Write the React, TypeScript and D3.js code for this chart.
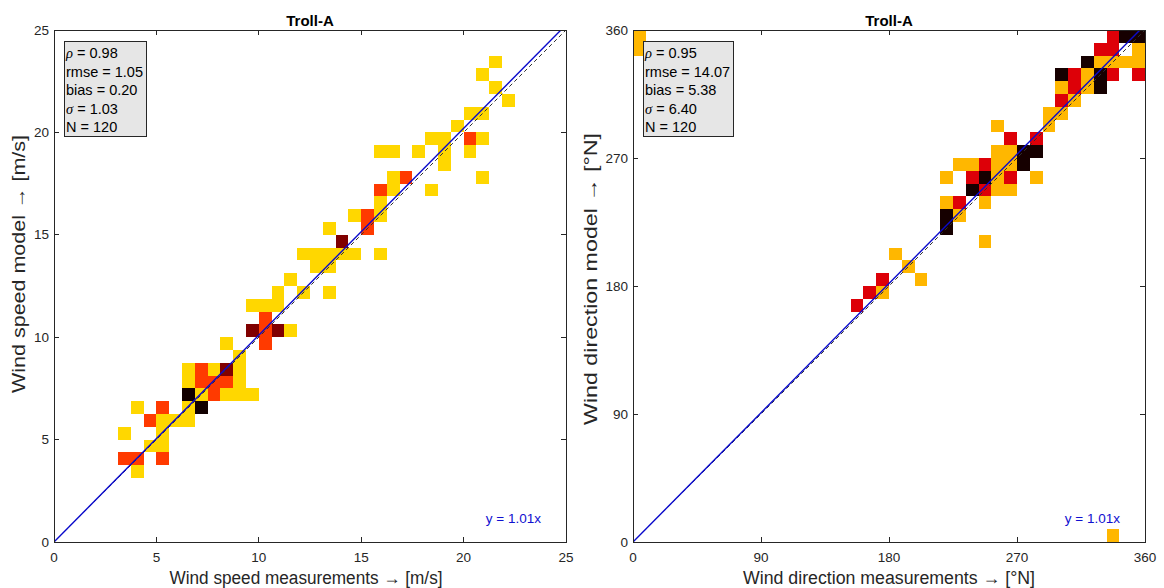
import React from "react";
import * as d3 from "d3";

// Histogram cells: [measured bin start, modelled bin start, count]
const speedBins: [number, number, number][] = [
  [3.75, 3.125, 1],
  [3.125, 3.75, 2], [3.75, 3.75, 2], [5, 3.75, 2],
  [4.375, 4.375, 1], [5, 4.375, 1],
  [3.125, 5, 1], [5, 5, 1],
  [4.375, 5.625, 2], [5, 5.625, 1], [5.625, 5.625, 1], [6.25, 5.625, 1],
  [3.75, 6.25, 1], [5, 6.25, 2], [6.25, 6.25, 1], [6.875, 6.25, 4],
  [6.25, 6.875, 4], [6.875, 6.875, 1], [7.5, 6.875, 2], [8.125, 6.875, 1], [8.75, 6.875, 1], [9.375, 6.875, 1],
  [6.25, 7.5, 1], [6.875, 7.5, 2], [7.5, 7.5, 2], [8.125, 7.5, 2], [8.75, 7.5, 1],
  [6.25, 8.125, 1], [6.875, 8.125, 2], [7.5, 8.125, 1], [8.125, 8.125, 3], [8.75, 8.125, 1],
  [8.75, 8.75, 1],
  [8.125, 9.375, 1], [10, 9.375, 2],
  [9.375, 10, 3], [10, 10, 2], [10.625, 10, 3], [11.25, 10, 1],
  [10, 10.625, 2],
  [9.375, 11.25, 1], [10, 11.25, 1], [10.625, 11.25, 1],
  [10.625, 11.875, 1], [11.875, 11.875, 1], [13.125, 11.875, 1],
  [11.25, 12.5, 1],
  [12.5, 13.125, 1], [13.125, 13.125, 1],
  [11.875, 13.75, 1], [12.5, 13.75, 1], [13.125, 13.75, 1], [13.75, 13.75, 1], [14.375, 13.75, 1], [15.625, 13.75, 1],
  [13.75, 14.375, 3],
  [13.125, 15, 1], [15, 15, 2],
  [14.375, 15.625, 1], [15, 15.625, 2], [15.625, 15.625, 1],
  [15.625, 16.25, 1],
  [15.625, 16.875, 2], [16.25, 16.875, 1], [18.125, 16.875, 1],
  [16.25, 17.5, 1], [16.875, 17.5, 2], [20.625, 17.5, 1],
  [18.75, 18.125, 1],
  [15.625, 18.75, 1], [16.25, 18.75, 1], [17.5, 18.75, 1], [18.75, 18.75, 1], [20, 18.75, 1],
  [18.125, 19.375, 1], [18.75, 19.375, 1], [20, 19.375, 2], [20.625, 19.375, 1],
  [19.375, 20, 1],
  [20, 20.625, 1], [20.625, 20.625, 1],
  [21.875, 21.25, 1],
  [21.25, 21.875, 1],
  [20.625, 22.5, 1],
  [21.25, 23.125, 1],
];

const directionBins: [number, number, number][] = [
  [333, 351, 2], [342, 351, 3], [351, 351, 3], [0, 351, 1],
  [324, 342, 2], [333, 342, 2], [351, 342, 1], [0, 342, 1],
  [315, 333, 3], [324, 333, 1], [333, 333, 1], [342, 333, 1], [351, 333, 1],
  [297, 324, 3], [306, 324, 2], [315, 324, 1], [324, 324, 3], [333, 324, 2], [351, 324, 2],
  [297, 315, 1], [306, 315, 2], [315, 315, 1], [324, 315, 3],
  [297, 306, 2], [306, 306, 1],
  [288, 297, 1], [297, 297, 1],
  [252, 288, 1], [288, 288, 1],
  [261, 279, 2], [279, 279, 2],
  [252, 270, 1], [261, 270, 1], [270, 270, 3], [279, 270, 3],
  [225, 261, 1], [234, 261, 1], [243, 261, 2], [252, 261, 1], [261, 261, 1], [270, 261, 3],
  [216, 252, 1], [234, 252, 2], [243, 252, 3], [252, 252, 1], [261, 252, 2], [279, 252, 1],
  [234, 243, 3], [243, 243, 2], [252, 243, 1], [261, 243, 1],
  [216, 234, 1], [225, 234, 2], [243, 234, 1],
  [216, 225, 3], [225, 225, 1],
  [216, 216, 3],
  [243, 207, 1],
  [180, 198, 1],
  [189, 189, 1],
  [171, 180, 2], [198, 180, 1],
  [162, 171, 2], [171, 171, 1],
  [153, 162, 2],
  [333, 0, 1],
];

const speedTicks = [0, 5, 10, 15, 20, 25];
const directionTicks = [0, 90, 180, 270, 360];

const speedColors = ["#FFD700", "#FF3A00", "#800000", "#120000"];
const directionColors = ["#FFB700", "#DD0008", "#160000"];

type Stat = { name: string; greek?: boolean; value: string };

const speedStats: Stat[] = [
  { name: "ρ", greek: true, value: "0.98" },
  { name: "rmse", value: "1.05" },
  { name: "bias", value: "0.20" },
  { name: "σ", greek: true, value: "1.03" },
  { name: "N", value: "120" },
];

const directionStats: Stat[] = [
  { name: "ρ", greek: true, value: "0.95" },
  { name: "rmse", value: "14.07" },
  { name: "bias", value: "5.38" },
  { name: "σ", greek: true, value: "6.40" },
  { name: "N", value: "120" },
];

const fitSlope = 1.01;

const AXIS = "#262626";
const FONT = "'Liberation Sans', Arial, Helvetica, sans-serif";
const TOP = 30;
const SIZE = 512;

type PanelProps = {
  id: string;
  left: number;
  max: number;
  binSize: number;
  ticks: number[];
  bins: [number, number, number][];
  colors: string[];
  stats: Stat[];
  boxWidth: number;
  xLabel: string;
  xLabelX: number;
  xLabelLen: number;
  yLabel: string;
  yLabelX: number;
  yLabelY: number;
  yLabelLen: number;
};

function Panel(p: PanelProps) {
  const x = d3.scaleLinear().domain([0, p.max]).range([p.left, p.left + SIZE]);
  const y = d3.scaleLinear().domain([0, p.max]).range([TOP + SIZE, TOP]);
  const line = d3
    .line<[number, number]>()
    .x((d) => x(d[0]))
    .y((d) => y(d[1]));
  const fitPts: [number, number][] = [
    [0, 0],
    [p.max, p.max * fitSlope],
  ];
  const idPts: [number, number][] = [
    [0, 0],
    [p.max, p.max],
  ];
  const tickLen = 5;
  const boxX = p.left + 10;
  const boxY = 41;
  return (
    <g>
      <defs>
        <clipPath id={`clip-${p.id}`}>
          <rect x={p.left} y={TOP} width={SIZE} height={SIZE} />
        </clipPath>
      </defs>
      <g clipPath={`url(#clip-${p.id})`}>
        {p.bins.map(([m, o, n], i) => (
          <rect
            key={i}
            x={x(m)}
            y={y(o + p.binSize)}
            width={x(m + p.binSize) - x(m)}
            height={y(o) - y(o + p.binSize)}
            fill={p.colors[n - 1]}
            shapeRendering="crispEdges"
          />
        ))}
        <path d={line(idPts) || ""} stroke="#303030" strokeWidth={1} strokeDasharray="4 3" fill="none" />
        <path d={line(fitPts) || ""} stroke="#0A0ACC" strokeWidth={1.4} fill="none" />
      </g>
      {/* frame */}
      <rect x={p.left} y={TOP} width={SIZE} height={SIZE} fill="none" stroke={AXIS} strokeWidth={1} shapeRendering="crispEdges" />
      {p.ticks.map((t) => (
        <g key={t} stroke={AXIS} strokeWidth={1} shapeRendering="crispEdges">
          <line x1={x(t)} x2={x(t)} y1={TOP + SIZE} y2={TOP + SIZE - tickLen} />
          <line x1={x(t)} x2={x(t)} y1={TOP} y2={TOP + tickLen} />
          <line x1={p.left} x2={p.left + tickLen} y1={y(t)} y2={y(t)} />
          <line x1={p.left + SIZE} x2={p.left + SIZE - tickLen} y1={y(t)} y2={y(t)} />
        </g>
      ))}
      {p.ticks.map((t) => (
        <text key={`xt${t}`} x={x(t)} y={TOP + SIZE + 20} textAnchor="middle" fontSize={13.5} fill={AXIS} fontFamily={FONT}>
          {t}
        </text>
      ))}
      {p.ticks.map((t) => (
        <text key={`yt${t}`} x={p.left - 5} y={y(t) + 4.5} textAnchor="end" fontSize={13.5} fill={AXIS} fontFamily={FONT}>
          {t}
        </text>
      ))}
      <text x={p.left + SIZE / 2} y={26} textAnchor="middle" fontSize={15} fontWeight="bold" fill="#000" fontFamily={FONT}>
        Troll-A
      </text>
      <text
        x={p.xLabelX}
        y={584}
        textAnchor="middle"
        fontSize={18}
        fill={AXIS}
        fontFamily={FONT}
        textLength={p.xLabelLen}
        lengthAdjust="spacingAndGlyphs"
      >
        {p.xLabel}
      </text>
      <text
        transform={`translate(${p.yLabelX},${p.yLabelY}) rotate(-90)`}
        textAnchor="middle"
        fontSize={18}
        fill={AXIS}
        fontFamily={FONT}
        textLength={p.yLabelLen}
        lengthAdjust="spacingAndGlyphs"
      >
        {p.yLabel}
      </text>
      <text x={p.left + SIZE - 25} y={523} textAnchor="end" fontSize={13.5} fill="#1010D0" fontFamily={FONT}>
        y = {fitSlope.toFixed(2)}x
      </text>
      {/* statistics box */}
      <rect x={boxX} y={boxY} width={p.boxWidth} height={95} fill="#E6E6E6" stroke={AXIS} strokeWidth={1} shapeRendering="crispEdges" />
      {p.stats.map((s, i) => (
        <text key={s.name} x={boxX + 2} y={58 + i * 18.5} fontSize={14.5} fill="#000" fontFamily={FONT}>
          {s.greek ? (
            <tspan fontFamily="'Liberation Serif', 'Times New Roman', serif" fontStyle="italic">
              {s.name}
            </tspan>
          ) : (
            <tspan>{s.name}</tspan>
          )}
          <tspan>{` = ${s.value}`}</tspan>
        </text>
      ))}
    </g>
  );
}

export default function App() {
  return (
    <svg
      width={1164}
      height={588}
      style={{ position: "absolute", left: 0, top: 0, background: "#fff" }}
    >
      <rect x={0} y={0} width={1164} height={588} fill="#fff" />
      <Panel
        id="speed"
        left={54}
        max={25}
        binSize={0.625}
        ticks={speedTicks}
        bins={speedBins}
        colors={speedColors}
        stats={speedStats}
        boxWidth={82}
        xLabel="Wind speed measurements → [m/s]"
        xLabelX={306}
        xLabelLen={273}
        yLabel="Wind speed model → [m/s]"
        yLabelX={25}
        yLabelY={264}
        yLabelLen={258}
      />
      <Panel
        id="direction"
        left={633}
        max={360}
        binSize={9}
        ticks={directionTicks}
        bins={directionBins}
        colors={directionColors}
        stats={directionStats}
        boxWidth={90}
        xLabel="Wind direction measurements → [°N]"
        xLabelX={889}
        xLabelLen={292}
        yLabel="Wind direction model → [°N]"
        yLabelX={597}
        yLabelY={279}
        yLabelLen={292}
      />
    </svg>
  );
}
